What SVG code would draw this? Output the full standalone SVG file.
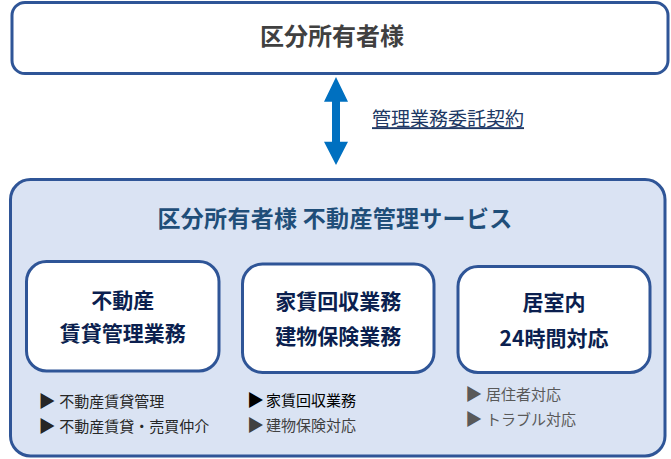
<svg xmlns="http://www.w3.org/2000/svg" width="671" height="459" viewBox="0 0 671 459">
<style>
.box{fill:#ffffff;stroke:#2F5597;stroke-width:3}
.cont{fill:#DAE3F3;stroke:#2F5597;stroke-width:3}
.jp{font-family:"Noto Sans CJK JP","Noto Sans",sans-serif}
.bt{font-size:21px;font-weight:bold;fill:#0B1F4F;text-anchor:middle}
.li{font-size:15px}
.tri{font-size:17px}
</style>
<rect width="671" height="459" fill="#ffffff"/>
<g id="owner">
<rect class="box" x="12" y="2.5" width="656" height="71" rx="13"/>
<text class="jp" x="332" y="45.4" font-size="24" font-weight="bold" fill="#404040" text-anchor="middle">区分所有者様</text>
</g>
<g id="connectors">
<polygon points="336,77 348,101.7 340,101.7 340,141.7 348,141.7 336,165 324,141.7 332,141.7 332,101.7 324,101.7" fill="#0070C0"/>
<text class="jp" x="372" y="126.2" font-size="19" fill="#203864" text-decoration="underline">管理業務委託契約</text>
</g>
<g id="service">
<rect class="cont" x="10.5" y="179.5" width="654.5" height="276.5" rx="20"/>
<text class="jp" x="335" y="226.7" font-size="23" font-weight="bold" fill="#1F4E79" text-anchor="middle" letter-spacing="0.3">区分所有者様 不動産管理サービス</text>
</g>
<g id="node-chintai">
<rect class="box" x="26.5" y="261.5" width="192.5" height="109.5" rx="20"/>
<text class="jp bt" x="122.7" y="307.5">不動産</text>
<text class="jp bt" x="122.7" y="341.3">賃貸管理業務</text>
</g>
<g id="node-yachin">
<rect class="box" x="242.5" y="264" width="191.5" height="108.5" rx="20"/>
<text class="jp bt" x="338.3" y="308.7">家賃回収業務</text>
<text class="jp bt" x="338.3" y="344">建物保険業務</text>
</g>
<g id="node-kyoshitsu">
<rect class="box" x="458" y="266.5" width="192" height="106" rx="20"/>
<text class="jp bt" x="554" y="310.3">居室内</text>
<text class="jp bt" x="554" y="346.3">24時間対応</text>
</g>
<g id="list-chintai" class="jp li">
<text y="407.4" fill="#262626"><tspan class="tri" x="38.5">▶</tspan><tspan x="59.3">不動産賃貸管理</tspan></text>
<text y="432.4" fill="#262626"><tspan class="tri" x="38.5">▶</tspan><tspan x="59.3">不動産賃貸・売買仲介</tspan></text>
</g>
<g id="list-yachin" class="jp li">
<text y="405.7" fill="#000000"><tspan class="tri" x="247">▶</tspan><tspan x="266">家賃回収業務</tspan></text>
<text y="431.2" fill="#404040"><tspan class="tri" x="247">▶</tspan><tspan x="266">建物保険対応</tspan></text>
</g>
<g id="list-kyoshitsu" class="jp li">
<text y="399.9" fill="#595959"><tspan class="tri" x="465.3">▶</tspan><tspan x="486">居住者対応</tspan></text>
<text y="424.6" fill="#595959"><tspan class="tri" x="465.3">▶</tspan><tspan x="486">トラブル対応</tspan></text>
</g>
</svg>
